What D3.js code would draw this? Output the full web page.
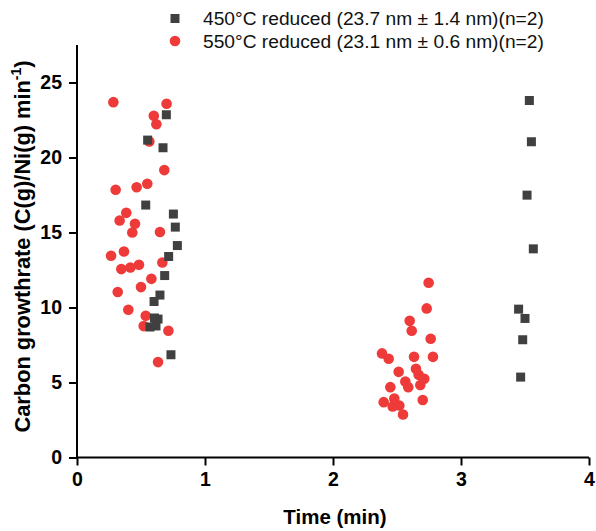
<!DOCTYPE html>
<html><head><meta charset="utf-8">
<script src="https://cdn.jsdelivr.net/npm/d3@7"></script>
<style>body{margin:0;background:#fff}svg{display:block}</style>
</head><body>
<svg id="c" width="596" height="531"></svg>
<script>
const seriesNames = ["450°C reduced (23.7 nm ± 1.4 nm)(n=2)", "550°C reduced (23.1 nm ± 0.6 nm)(n=2)"];
const blackTime = [0.698,0.552,0.672,0.537,0.753,0.768,0.784,0.716,0.685,0.648,0.602,0.605,0.633,0.617,0.57,0.734,
  3.534,3.55,3.516,3.565,3.45,3.5,3.482,3.466];
const blackRate = [22.85,21.16,20.65,16.83,16.23,15.36,14.13,13.4,12.13,10.83,10.4,9.3,9.23,8.77,8.7,6.85,
  23.8,21.05,17.49,13.91,9.89,9.27,7.85,5.36];
const redTime = [0.284,0.70,0.60,0.62,0.565,0.682,0.302,0.466,0.549,0.385,0.333,0.453,0.432,0.648,0.266,0.367,0.346,0.417,0.484,0.667,0.581,0.318,0.5,0.401,0.537,0.521,0.714,0.633,
  2.747,2.732,2.599,2.615,2.763,2.383,2.435,2.633,2.781,2.513,2.648,2.669,2.565,2.588,2.713,2.682,2.448,2.396,2.479,2.466,2.518,2.547,2.701];
const redRate = [23.69,23.58,22.78,22.22,21.07,19.16,17.85,18.02,18.25,16.31,15.8,15.58,15.0,15.03,13.45,13.73,12.56,12.67,12.85,13.0,11.91,11.03,11.36,9.85,9.45,8.76,8.45,6.36,
  11.65,9.94,9.11,8.45,7.92,6.94,6.58,6.71,6.71,5.71,5.91,5.51,5.07,4.69,5.25,4.83,4.69,3.69,3.93,3.4,3.47,2.87,3.83];
const xTicks = [0,1,2,3,4];
const yTicks = [0,5,10,15,20,25];

const svg = d3.select("#c");
const x = d3.scaleLinear().domain([0,4]).range([77,589]);
const y = d3.scaleLinear().domain([0,27.5]).range([457.5,45]);
const font = "'Liberation Sans', Arial, sans-serif";
const blackCol = "#404040", redCol = "#ef3a3a";

// minor + major ticks
const gx = svg.append("g").attr("transform",`translate(0,${y(0)})`);
gx.call(d3.axisBottom(x).tickValues(d3.range(0.5,4,1)).tickSize(4).tickFormat(""));
gx.call(d3.axisBottom(x).tickValues(xTicks).tickSize(8).tickPadding(7).tickFormat(d3.format("d")));
const gy = svg.append("g").attr("transform",`translate(${x(0)},0)`);
gy.call(d3.axisLeft(y).tickValues(d3.range(2.5,27.5,5)).tickSize(4).tickFormat(""));
gy.call(d3.axisLeft(y).tickValues(yTicks).tickSize(8).tickPadding(7).tickFormat(d3.format("d")));
svg.selectAll(".domain").attr("stroke","#000").attr("stroke-width",2);
svg.selectAll(".tick line").attr("stroke","#000").attr("stroke-width",2);
svg.selectAll(".tick text").attr("font-family",font).attr("font-size",19.5).attr("font-weight","bold").attr("fill","#000");
gx.selectAll(".domain").attr("d",`M${x(0)},0H${x(4)}`);
gy.selectAll(".domain").attr("d",`M0,${y(0)}V${y(27.5)}`);

// data
const plot = svg.append("g");
const redData = redTime.map((t,i)=>({t, v: redRate[i]}));
const blackData = blackTime.map((t,i)=>({t, v: blackRate[i]}));
plot.selectAll("circle.r").data(redData).join("circle")
  .attr("cx",d=>x(d.t)).attr("cy",d=>y(d.v)).attr("r",5.3).attr("fill",redCol);
const s = 9;
plot.selectAll("rect.b").data(blackData).join("rect")
  .attr("x",d=>x(d.t)-s/2).attr("y",d=>y(d.v)-s/2).attr("width",s).attr("height",s).attr("fill",blackCol);

// axis labels
svg.append("text").attr("x",x(2)+2).attr("y",524).attr("text-anchor","middle")
  .attr("font-family",font).attr("font-size",20.5).attr("font-weight","bold").text("Time (min)");
const yl = svg.append("text").attr("transform",`translate(29.5,246.5) rotate(-90)`).attr("text-anchor","middle")
  .attr("font-family",font).attr("font-size",21.8).attr("font-weight","bold");
yl.append("tspan").text("Carbon growthrate (C(g)/Ni(g) min");
yl.append("tspan").attr("font-size",14).attr("dy",-9).text("-1");
yl.append("tspan").attr("dy",9).text(")");

// legend
const lg = svg.append("g");
lg.append("rect").attr("x",175-s/2).attr("y",18.5-s/2).attr("width",s).attr("height",s).attr("fill",blackCol);
lg.append("circle").attr("cx",175).attr("cy",41).attr("r",5.3).attr("fill",redCol);
lg.selectAll("text").data(seriesNames).join("text")
  .attr("x",203).attr("y",(d,i)=>25+i*22.5)
  .attr("font-family",font).attr("font-size",19.2).attr("fill","#111").text(d=>d);
</script>
</body></html>
